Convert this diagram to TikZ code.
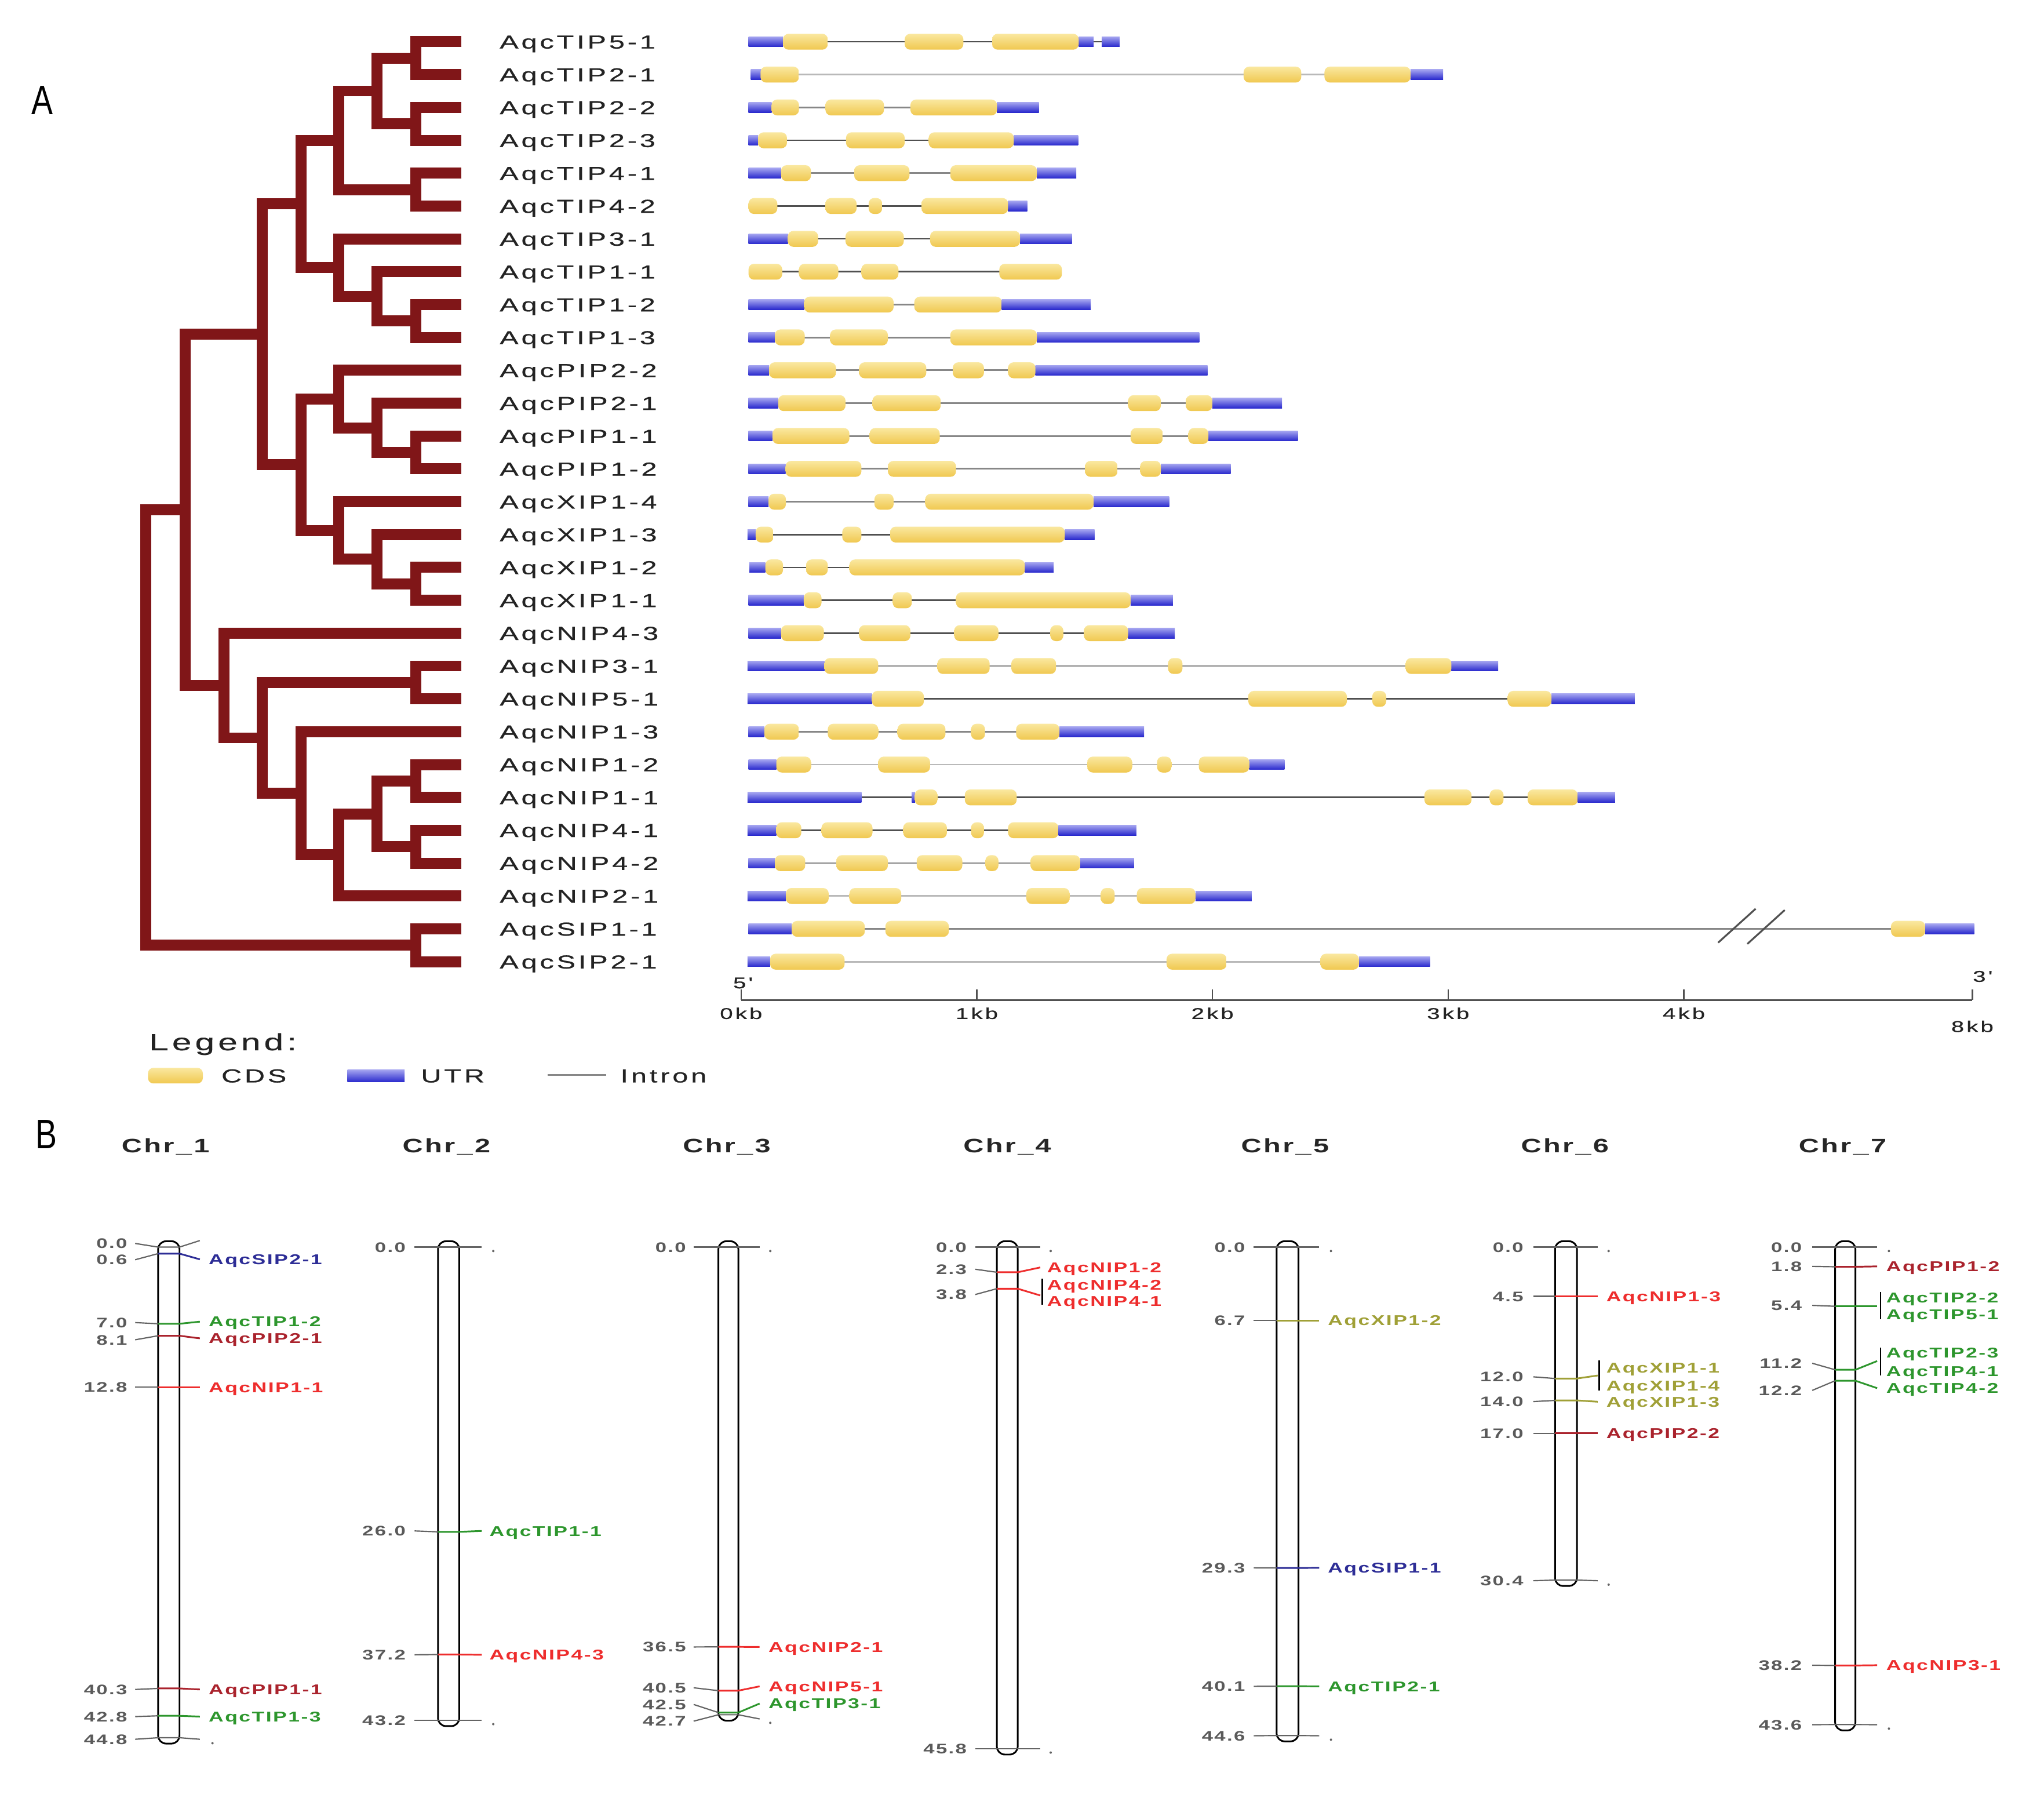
\documentclass[tikz,border=0pt]{standalone}
\usepackage{fontspec}
\setmainfont{Liberation Sans}
\newfontfamily\glab[FakeStretch=1.5,LetterSpace=15,FakeBold=0.6]{Liberation Sans}
\newfontfamily\mlab[FakeStretch=1.45,LetterSpace=10]{Liberation Sans}
\newfontfamily\plab[FakeStretch=0.78]{Liberation Sans}
\definecolor{branch}{RGB}{128,22,24}
\definecolor{labgray}{RGB}{35,35,35}
\definecolor{cdstop}{RGB}{250,232,160}
\definecolor{cdsbot}{RGB}{240,200,80}
\definecolor{utrtop}{RGB}{165,165,240}
\definecolor{utrbot}{RGB}{40,40,205}
\definecolor{intdark}{RGB}{80,80,80}
\definecolor{intmid}{RGB}{135,135,135}
\definecolor{intlight}{RGB}{185,185,185}
\definecolor{mred}{RGB}{238,45,45}
\definecolor{mdred}{RGB}{170,35,45}
\definecolor{mgreen}{RGB}{45,150,45}
\definecolor{mnavy}{RGB}{45,45,150}
\definecolor{molive}{RGB}{160,160,55}
\definecolor{numgray}{RGB}{90,90,90}
\definecolor{tickgray}{RGB}{100,100,100}
\tikzset{
  br/.style={draw=branch, line width=4.8pt},
  leaflab/.style={anchor=base west, inner sep=0pt, text=labgray, font=\glab\fontsize{8.2}{9}\selectfont},
  axlab/.style={anchor=base, inner sep=0pt, text=labgray, font=\glab\fontsize{6.8}{8}\selectfont},
  leglab/.style={anchor=base west, inner sep=0pt, text=labgray, font=\glab\fontsize{8.2}{9}\selectfont},
  panel/.style={anchor=base west, inner sep=0pt, text=black, font=\plab\fontsize{18}{20}\selectfont},
  chrtitle/.style={anchor=base, inner sep=0pt, text=black!85, font=\mlab\bfseries\fontsize{8.5}{10}\selectfont},
  numst/.style={anchor=base east, inner sep=0pt, text=numgray, font=\mlab\bfseries\fontsize{6.05}{7}\selectfont},
  mapst/.style={anchor=base west, inner sep=0pt, font=\mlab\bfseries\fontsize{6.2}{7}\selectfont},
  tickln/.style={draw=tickgray, line width=0.55pt},
  locln/.style={line width=0.75pt},
  brk/.style={draw=black, line width=0.6pt},
  chrst/.style={draw=black, line width=0.75pt, fill=white, rounded corners=3.5pt},
  dotc/.style={fill=tickgray}
}
\newcommand\Gene[4]{\draw[draw=#4, line width=0.7pt] (#2,{32+25.2*#1}) -- (#3,{32+25.2*#1});}
\newcommand\Utr[3]{\shade[top color=utrtop, bottom color=utrbot] (#1,{32+25.2*#3-3.9}) rectangle (#2,{32+25.2*#3+3.9});}
\newcommand\Cds[3]{\shade[top color=cdstop, bottom color=cdsbot, rounded corners=2.4pt] (#1,{32+25.2*#3-6.1}) rectangle (#2,{32+25.2*#3+6.1});}
\newcommand\TN[3]{\coordinate (#1) at (#2,{32+25.2*#3});}
\newcommand\Loc[7]{%
  \draw[tickln] (\ccL,#1) -- (\ccBL,#2);
  \draw[locln, draw=#4] (\ccBL,#2) -- (\ccBR,#2) -- (\ccR,#3);
  \node[numst] (n#7) at (\ccN,{#1+3.8}) {#5};
  \node[mapst, text=#4] (g#7) at (\ccT,{#3+3.9}) {#6};
}
\newcommand\Endl[5]{%
  \draw[tickln] (\ccL,#1) -- (\ccBL,#2) -- (\ccBR,#2) -- (\ccR,#3);
  \node[numst] (n#5) at (\ccN,{#1+3.8}) {#4};
  \fill[dotc] (\ccD,{#3+3}) circle (0.9);
}
\newcommand\Brk[8]{%
  \draw[tickln] (\ccL,#1) -- (\ccBL,#2);
  \draw[locln, draw=#4] (\ccBL,#2) -- (\ccBR,#2) -- (\ccR,#3);
  \node[numst] (n#8) at (\ccN,{#1+3.8}) {#5};
  \draw[brk] (\ccK,#6) -- (\ccK,#7);
}
\begin{document}
\begin{tikzpicture}[x=0.02cm,y=-0.02cm]
\fill[white] (0,0) rectangle (1568,1379);
\useasboundingbox (0,0) rectangle (1568,1379);

% ---------------- Panel A ----------------
\node[panel] (pA) at (24,88) {A};

% tree coordinates
\foreach \i in {0,...,28} {\coordinate (l\i) at (354,{32+25.2*\i});}
\TN{t01}{319}{0.5}
\TN{t23}{319}{2.5}
\TN{t03}{289}{1.5}
\TN{t45}{319}{4.5}
\TN{t05}{260}{3.0}
\TN{t89}{319}{8.5}
\TN{t79}{289}{7.75}
\TN{t69}{260}{6.875}
\TN{t09}{231}{4.9375}
\TN{p1213}{319}{12.5}
\TN{p1113}{289}{11.75}
\TN{p1013}{260}{10.875}
\TN{x1617}{319}{16.5}
\TN{x1517}{289}{15.75}
\TN{x1417}{260}{14.875}
\TN{px}{231}{12.875}
\TN{tpx}{201}{8.90625}
\TN{n1920}{319}{19.5}
\TN{n2223}{319}{22.5}
\TN{n2425}{319}{24.5}
\TN{n2225}{289}{23.5}
\TN{n2226}{260}{24.75}
\TN{n2126}{231}{22.875}
\TN{n1926}{201}{21.1875}
\TN{n1826}{172}{19.59375}
\TN{aqp}{142}{14.25}
\TN{s2728}{319}{27.5}
\TN{root}{112}{20.875}

\draw[br] (l0) -| (t01) |- (l1);
\draw[br] (l2) -| (t23) |- (l3);
\draw[br] (t01) -| (t03) |- (t23);
\draw[br] (l4) -| (t45) |- (l5);
\draw[br] (t03) -| (t05) |- (t45);
\draw[br] (l8) -| (t89) |- (l9);
\draw[br] (l7) -| (t79) |- (t89);
\draw[br] (l6) -| (t69) |- (t79);
\draw[br] (t05) -| (t09) |- (t69);
\draw[br] (l12) -| (p1213) |- (l13);
\draw[br] (l11) -| (p1113) |- (p1213);
\draw[br] (l10) -| (p1013) |- (p1113);
\draw[br] (l16) -| (x1617) |- (l17);
\draw[br] (l15) -| (x1517) |- (x1617);
\draw[br] (l14) -| (x1417) |- (x1517);
\draw[br] (p1013) -| (px) |- (x1417);
\draw[br] (t09) -| (tpx) |- (px);
\draw[br] (l19) -| (n1920) |- (l20);
\draw[br] (l22) -| (n2223) |- (l23);
\draw[br] (l24) -| (n2425) |- (l25);
\draw[br] (n2223) -| (n2225) |- (n2425);
\draw[br] (n2225) -| (n2226) |- (l26);
\draw[br] (l21) -| (n2126) |- (n2226);
\draw[br] (n1920) -| (n1926) |- (n2126);
\draw[br] (l18) -| (n1826) |- (n1926);
\draw[br] (tpx) -| (aqp) |- (n1826);
\draw[br] (l27) -| (s2728) |- (l28);
\draw[br] (aqp) -| (root) |- (s2728);

\foreach \i/\t in {0/AqcTIP5-1,1/AqcTIP2-1,2/AqcTIP2-2,3/AqcTIP2-3,4/AqcTIP4-1,5/AqcTIP4-2,6/AqcTIP3-1,7/AqcTIP1-1,8/AqcTIP1-2,9/AqcTIP1-3,10/AqcPIP2-2,11/AqcPIP2-1,12/AqcPIP1-1,13/AqcPIP1-2,14/AqcXIP1-4,15/AqcXIP1-3,16/AqcXIP1-2,17/AqcXIP1-1,18/AqcNIP4-3,19/AqcNIP3-1,20/AqcNIP5-1,21/AqcNIP1-3,22/AqcNIP1-2,23/AqcNIP1-1,24/AqcNIP4-1,25/AqcNIP4-2,26/AqcNIP2-1,27/AqcSIP1-1,28/AqcSIP2-1}
  {\node[leaflab] (lab\i) at (383,{32+25.2*\i+5.2}) {\t};}

% gene structures
\Gene{0}{574.2}{858.8}{intdark}
\Utr{574.2}{600.7}{0}\Utr{827.5}{838.9}{0}\Utr{845.2}{858.8}{0}
\Cds{600.7}{635.0}{0}\Cds{694.0}{739.0}{0}\Cds{761.1}{827.5}{0}

\Gene{1}{576}{1107}{intlight}
\Utr{576}{584}{1}\Utr{1082}{1107}{1}
\Cds{583.4}{612.9}{1}\Cds{954}{998.2}{1}\Cds{1016}{1082}{1}

\Gene{2}{574.2}{796.9}{intmid}
\Utr{574.2}{591.9}{2}\Utr{764.8}{796.9}{2}
\Cds{591.9}{612.9}{2}\Cds{633.2}{678.1}{2}\Cds{698.4}{764.8}{2}

\Gene{3}{574.2}{827.1}{intdark}
\Utr{574.2}{581.5}{3}\Utr{777.7}{827.1}{3}
\Cds{581.5}{603.7}{3}\Cds{649}{694}{3}\Cds{712.4}{777.7}{3}

\Gene{4}{574.2}{825.6}{intmid}
\Utr{574.2}{599.2}{4}\Utr{795.4}{825.6}{4}
\Cds{599.2}{622.1}{4}\Cds{655.3}{697.7}{4}\Cds{729}{795.4}{4}

\Gene{5}{574.2}{788}{intdark}
\Utr{773.3}{788}{5}
\Cds{574.2}{596.3}{5}\Cds{633.2}{657.1}{5}\Cds{666.3}{676.7}{5}\Cds{706.9}{773.3}{5}

\Gene{6}{574.2}{822.3}{intdark}
\Utr{574.2}{604.4}{6}\Utr{782.5}{822.3}{6}
\Cds{604.4}{627.6}{6}\Cds{648.6}{693.3}{6}\Cds{713.5}{782.5}{6}

\Gene{7}{574.2}{814.6}{intdark}
\Cds{574.2}{600}{7}\Cds{612.9}{643.1}{7}\Cds{660.8}{689.2}{7}\Cds{766.6}{814.6}{7}

\Gene{8}{574.2}{836.7}{intmid}
\Utr{574.2}{616.9}{8}\Utr{768.5}{836.7}{8}
\Cds{616.9}{685.5}{8}\Cds{701.4}{768.5}{8}

\Gene{9}{574.2}{920}{intmid}
\Utr{574.2}{594.4}{9}\Utr{795.4}{920}{9}
\Cds{594.4}{617.3}{9}\Cds{636.8}{681.1}{9}\Cds{729}{795.4}{9}

\Gene{10}{574.2}{926.3}{intmid}
\Utr{574.2}{590}{10}\Utr{794.3}{926.3}{10}
\Cds{590}{641.3}{10}\Cds{659}{710.6}{10}\Cds{730.9}{754.8}{10}\Cds{773.3}{794.3}{10}

\Gene{11}{574.2}{983.4}{intmid}
\Utr{574.2}{597}{11}\Utr{930}{983.4}{11}
\Cds{597}{648.6}{11}\Cds{669.3}{721.6}{11}\Cds{865.4}{890.5}{11}\Cds{909.7}{930}{11}

\Gene{12}{574.2}{995.6}{intmid}
\Utr{574.2}{592.6}{12}\Utr{927}{995.6}{12}
\Cds{592.6}{651.6}{12}\Cds{667.1}{720.9}{12}\Cds{867.3}{892}{12}\Cds{911.6}{927}{12}

\Gene{13}{574.2}{944}{intmid}
\Utr{574.2}{602.6}{13}\Utr{890.5}{944}{13}
\Cds{602.6}{660.8}{13}\Cds{681.1}{733.4}{13}\Cds{832.3}{857.3}{13}\Cds{874.6}{890.5}{13}

\Gene{14}{574.2}{896.8}{intmid}
\Utr{574.2}{589.6}{14}\Utr{838.9}{896.8}{14}
\Cds{589.6}{602.9}{14}\Cds{670.8}{685.5}{14}\Cds{709.8}{838.9}{14}

\Gene{15}{573.4}{839.6}{intdark}
\Utr{573.4}{579.7}{15}\Utr{816.8}{839.6}{15}
\Cds{579.7}{593.3}{15}\Cds{646.1}{660.8}{15}\Cds{682.9}{816.8}{15}

\Gene{16}{574.9}{808.3}{intdark}
\Utr{574.9}{587.1}{16}\Utr{786.2}{808.3}{16}
\Cds{587.1}{600.7}{16}\Cds{618.4}{635}{16}\Cds{651.6}{786.2}{16}

\Gene{17}{574.2}{899.7}{intdark}
\Utr{574.2}{616.6}{17}\Utr{867.3}{899.7}{17}
\Cds{616.6}{630.2}{17}\Cds{684.8}{699.5}{17}\Cds{733.4}{867.3}{17}

\Gene{18}{574.2}{901.2}{intdark}
\Utr{574.2}{599.2}{18}\Utr{865.4}{901.2}{18}
\Cds{599.2}{632}{18}\Cds{659}{698.4}{18}\Cds{732}{765.9}{18}\Cds{805.7}{815.7}{18}\Cds{831.5}{865.4}{18}

\Gene{19}{573.4}{1149.2}{intmid}
\Utr{573.4}{632.4}{19}\Utr{1113.4}{1149.2}{19}
\Cds{632.4}{673.7}{19}\Cds{719.1}{759.2}{19}\Cds{775.8}{810.1}{19}\Cds{896}{907.1}{19}\Cds{1078.3}{1113.4}{19}

\Gene{20}{573.4}{1254.1}{intdark}
\Utr{573.4}{668.9}{20}\Utr{1190.1}{1254.1}{20}
\Cds{668.9}{708.7}{20}\Cds{957.6}{1033.2}{20}\Cds{1052.7}{1063.4}{20}\Cds{1156.6}{1190.1}{20}

\Gene{21}{574.2}{877.6}{intmid}
\Utr{574.2}{586.3}{21}\Utr{812.7}{877.6}{21}
\Cds{586.3}{612.9}{21}\Cds{635}{673.7}{21}\Cds{688.5}{725.3}{21}\Cds{744.9}{755.6}{21}\Cds{779.5}{812.7}{21}

\Gene{22}{574.2}{985.3}{intlight}
\Utr{574.2}{595.5}{22}\Utr{958.3}{985.3}{22}
\Cds{595.5}{622.1}{22}\Cds{673.7}{713.5}{22}\Cds{834.1}{868.4}{22}\Cds{887.6}{898.6}{22}\Cds{919.6}{958.3}{22}

\Gene{23}{573.4}{1239}{intdark}
\Utr{573.4}{660.8}{23}\Utr{699.5}{702}{23}\Utr{1210.3}{1239}{23}
\Cds{701.8}{719.1}{23}\Cds{740.1}{779.9}{23}\Cds{1092.7}{1128.8}{23}\Cds{1142.8}{1153.4}{23}\Cds{1171.9}{1210.3}{23}

\Gene{24}{573.4}{871.7}{intdark}
\Utr{573.4}{595.5}{24}\Utr{812}{871.7}{24}
\Cds{595.5}{614.7}{24}\Cds{630.2}{669.3}{24}\Cds{692.9}{726.4}{24}\Cds{744.9}{754.8}{24}\Cds{773.3}{812}{24}

\Gene{25}{574.2}{869.9}{intmid}
\Utr{574.2}{594.4}{25}\Utr{828.6}{869.9}{25}
\Cds{594.4}{617.7}{25}\Cds{641.6}{681.1}{25}\Cds{703.2}{738.2}{25}\Cds{755.9}{765.9}{25}\Cds{790.6}{828.6}{25}

\Gene{26}{573.4}{960.2}{intlight}
\Utr{573.4}{602.9}{26}\Utr{917.1}{960.2}{26}
\Cds{602.9}{635.7}{26}\Cds{651.6}{691.4}{26}\Cds{787.3}{820.5}{26}\Cds{844.4}{855.1}{26}\Cds{872.1}{917.1}{26}

\Gene{27}{574.2}{1514.5}{intmid}
\Utr{574.2}{607.3}{27}\Utr{1476.8}{1514.5}{27}
\Cds{607.3}{663.4}{27}\Cds{679.2}{727.9}{27}\Cds{1450.6}{1476.8}{27}

\Gene{28}{573.4}{1097}{intlight}
\Utr{573.4}{590.8}{28}\Utr{1042.4}{1097}{28}
\Cds{590.8}{647.9}{28}\Cds{894.9}{941}{28}\Cds{1012.9}{1042.4}{28}

% break marks
\draw[intdark, line width=0.8pt] (1318,723) -- (1346.8,697);
\draw[intdark, line width=0.8pt] (1340.4,724) -- (1369.1,698);

% scale axis
\draw[intdark, line width=0.85pt] (568.5,767) -- (1513,767);
\foreach \x/\t/\n in {568.5/0kb/k0,749.3/1kb/k1,930.1/2kb/k2,1110.9/3kb/k3,1291.7/4kb/k4}{
  \draw[intdark, line width=0.6pt] (\x,767) -- (\x,759);
  \node[axlab] (\n) at (\x,781.5) {\t};
}
\draw[intdark, line width=0.6pt] (1513,767) -- (1513,759);
\node[axlab] (k8) at (1513,791.5) {8kb};
\node[axlab] (five) at (570,758) {5'};
\node[axlab] (three) at (1521,753) {3'};

% legend
\node[anchor=base west, inner sep=0pt, text=labgray, font=\glab\fontsize{10.2}{12}\selectfont] (legt) at (114,805.5) {Legend:};
\shade[top color=cdstop, bottom color=cdsbot, rounded corners=2.4pt] (113.5,819) rectangle (155.6,831);
\node[leglab] (legc) at (169.5,830.2) {CDS};
\shade[top color=utrtop, bottom color=utrbot] (266.6,820.4) rectangle (310.4,830);
\node[leglab] (legu) at (322.6,830.2) {UTR};
\draw[intmid, line width=0.7pt] (420,824.4) -- (465,824.4);
\node[leglab] (legi) at (475.6,830.2) {Intron};

% ---------------- Panel B ----------------
\node[panel] (pB) at (27,881) {B};

% Chr_1
\begin{scope}
\def\ccN{97.9}\def\ccL{103.7}\def\ccBL{121.3}\def\ccBR{137.7}\def\ccR{153.3}\def\ccT{159.8}\def\ccD{163}
\node[chrtitle] (chr1) at (127,884) {Chr\_1};
\draw[chrst] (\ccBL,952) rectangle (\ccBR,1337.3);
\draw[tickln] (\ccL,953.7) -- (\ccBL,956.5) -- (\ccBR,956.5) -- (\ccR,951.5);
\node[numst] (nc1o) at (\ccN,{953.7+3.8}) {0.0};
\Loc{966.2}{961.5}{965.9}{mnavy}{0.6}{AqcSIP2-1}{c1a}
\Loc{1014.4}{1015.3}{1013.7}{mgreen}{7.0}{AqcTIP1-2}{c1b}
\Loc{1027.6}{1024.5}{1026.5}{mdred}{8.1}{AqcPIP2-1}{c1c}
\Loc{1064}{1064}{1064}{mred}{12.8}{AqcNIP1-1}{c1d}
\Loc{1295.8}{1295}{1295.8}{mdred}{40.3}{AqcPIP1-1}{c1e}
\Loc{1316.6}{1316}{1316.6}{mgreen}{42.8}{AqcTIP1-3}{c1f}
\Endl{1334}{1332.8}{1334}{44.8}{c1z}
\end{scope}

% Chr_2
\begin{scope}
\def\ccN{311.5}\def\ccL{318}\def\ccBL{336}\def\ccBR{352.3}\def\ccR{369.6}\def\ccT{375.1}\def\ccD{378.4}
\node[chrtitle] (chr2) at (342.5,884) {Chr\_2};
\draw[chrst] (\ccBL,952) rectangle (\ccBR,1323.9);
\Endl{956.5}{956.5}{956.5}{0.0}{c2a}
\Loc{1174.2}{1174.9}{1174.2}{mgreen}{26.0}{AqcTIP1-1}{c2b}
\Loc{1269.2}{1269}{1269.2}{mred}{37.2}{AqcNIP4-3}{c2c}
\Endl{1319.4}{1319.4}{1319.4}{43.2}{c2z}
\end{scope}

% Chr_3
\begin{scope}
\def\ccN{526.6}\def\ccL{532.1}\def\ccBL{551.1}\def\ccBR{566.4}\def\ccR{582.7}\def\ccT{589.2}\def\ccD{590.9}
\node[chrtitle] (chr3) at (557.5,884) {Chr\_3};
\draw[chrst] (\ccBL,952) rectangle (\ccBR,1319.7);
\Endl{956.5}{956.5}{956.5}{0.0}{c3a}
\Loc{1263.2}{1263.1}{1263.2}{mred}{36.5}{AqcNIP2-1}{c3b}
\Loc{1294.5}{1296.7}{1293.4}{mred}{40.5}{AqcNIP5-1}{c3c}
\Loc{1307.3}{1313.5}{1306.6}{mgreen}{42.5}{AqcTIP3-1}{c3d}
\Endl{1320.1}{1315.2}{1318.4}{42.7}{c3z}
\end{scope}

% Chr_4
\begin{scope}
\def\ccN{741.9}\def\ccL{748.1}\def\ccBL{764.7}\def\ccBR{780.7}\def\ccR{798}\def\ccT{802.9}\def\ccD{806}\def\ccK{799.5}
\node[chrtitle] (chr4) at (772.7,884) {Chr\_4};
\draw[chrst] (\ccBL,952) rectangle (\ccBR,1345.7);
\Endl{956.5}{956.5}{956.5}{0.0}{c4a}
\Loc{973.5}{975.8}{972.1}{mred}{2.3}{AqcNIP1-2}{c4b}
\Brk{992.9}{988.4}{993.6}{mred}{3.8}{980.8}{1000.5}{c4c}
\node[mapst, text=mred] (gc4c1) at (\ccT,{985.6+3.9}) {AqcNIP4-2};
\node[mapst, text=mred] (gc4c2) at (\ccT,{998.1+3.9}) {AqcNIP4-1};
\Endl{1341.2}{1341.2}{1341.2}{45.8}{c4z}
\end{scope}

% Chr_5
\begin{scope}
\def\ccN{955.5}\def\ccL{961.8}\def\ccBL{979.3}\def\ccBR{996.1}\def\ccR{1012}\def\ccT{1018.3}\def\ccD{1021}
\node[chrtitle] (chr5) at (985.8,884) {Chr\_5};
\draw[chrst] (\ccBL,952) rectangle (\ccBR,1335.6);
\Endl{956.5}{956.5}{956.5}{0.0}{c5a}
\Loc{1012.8}{1012.8}{1012.8}{molive}{6.7}{AqcXIP1-2}{c5b}
\Loc{1202.5}{1202.6}{1202.5}{mnavy}{29.3}{AqcSIP1-1}{c5c}
\Loc{1293.4}{1293.3}{1293.4}{mgreen}{40.1}{AqcTIP2-1}{c5d}
\Endl{1331.3}{1331.1}{1331.3}{44.6}{c5z}
\end{scope}

% Chr_6
\begin{scope}
\def\ccN{1169}\def\ccL{1176.2}\def\ccBL{1192.9}\def\ccBR{1209.7}\def\ccR{1225.6}\def\ccT{1231.9}\def\ccD{1234}\def\ccK{1226.8}
\node[chrtitle] (chr6) at (1200.5,884) {Chr\_6};
\draw[chrst] (\ccBL,952) rectangle (\ccBR,1216.4);
\Endl{956.5}{956.5}{956.5}{0.0}{c6a}
\Loc{994.3}{994.3}{994.3}{mred}{4.5}{AqcNIP1-3}{c6b}
\Brk{1056}{1057.3}{1055}{molive}{12.0}{1043.2}{1066.4}{c6c}
\node[mapst, text=molive] (gc6c1) at (\ccT,{1049.1+3.9}) {AqcXIP1-1};
\node[mapst, text=molive] (gc6c2) at (\ccT,{1063+3.9}) {AqcXIP1-4};
\Loc{1075}{1074.1}{1075.1}{molive}{14.0}{AqcXIP1-3}{c6d}
\Loc{1099.3}{1099.3}{1099.3}{mdred}{17.0}{AqcPIP2-2}{c6e}
\Endl{1212.4}{1211.9}{1212.4}{30.4}{c6z}
\end{scope}

% Chr_7
\begin{scope}
\def\ccN{1382.6}\def\ccL{1390.2}\def\ccBL{1407.8}\def\ccBR{1423.3}\def\ccR{1440}\def\ccT{1446.7}\def\ccD{1449}\def\ccK{1442.5}
\node[chrtitle] (chr7) at (1413.5,884) {Chr\_7};
\draw[chrst] (\ccBL,952) rectangle (\ccBR,1327.2);
\Endl{956.5}{956.5}{956.5}{0.0}{c7a}
\Loc{971.3}{971.6}{971.3}{mdred}{1.8}{AqcPIP1-2}{c7b}
\Brk{1001.2}{1001.9}{1001.9}{mgreen}{5.4}{990.8}{1012}{c7c}
\node[mapst, text=mgreen] (gc7c1) at (\ccT,{995.3+3.9}) {AqcTIP2-2};
\node[mapst, text=mgreen] (gc7c2) at (\ccT,{1008.2+3.9}) {AqcTIP5-1};
\Brk{1045.6}{1050.6}{1043.9}{mgreen}{11.2}{1033.5}{1055}{c7d}
\node[mapst, text=mgreen] (gc7d1) at (\ccT,{1037.6+3.9}) {AqcTIP2-3};
\node[mapst, text=mgreen] (gc7d2) at (\ccT,{1051.8+3.9}) {AqcTIP4-1};
\Loc{1066.4}{1059}{1064.7}{mgreen}{12.2}{AqcTIP4-2}{c7e}
\Loc{1277.2}{1277.4}{1277.2}{mred}{38.2}{AqcNIP3-1}{c7f}
\Endl{1322.8}{1322.7}{1322.8}{43.6}{c7z}
\end{scope}
\end{tikzpicture}
\end{document}
